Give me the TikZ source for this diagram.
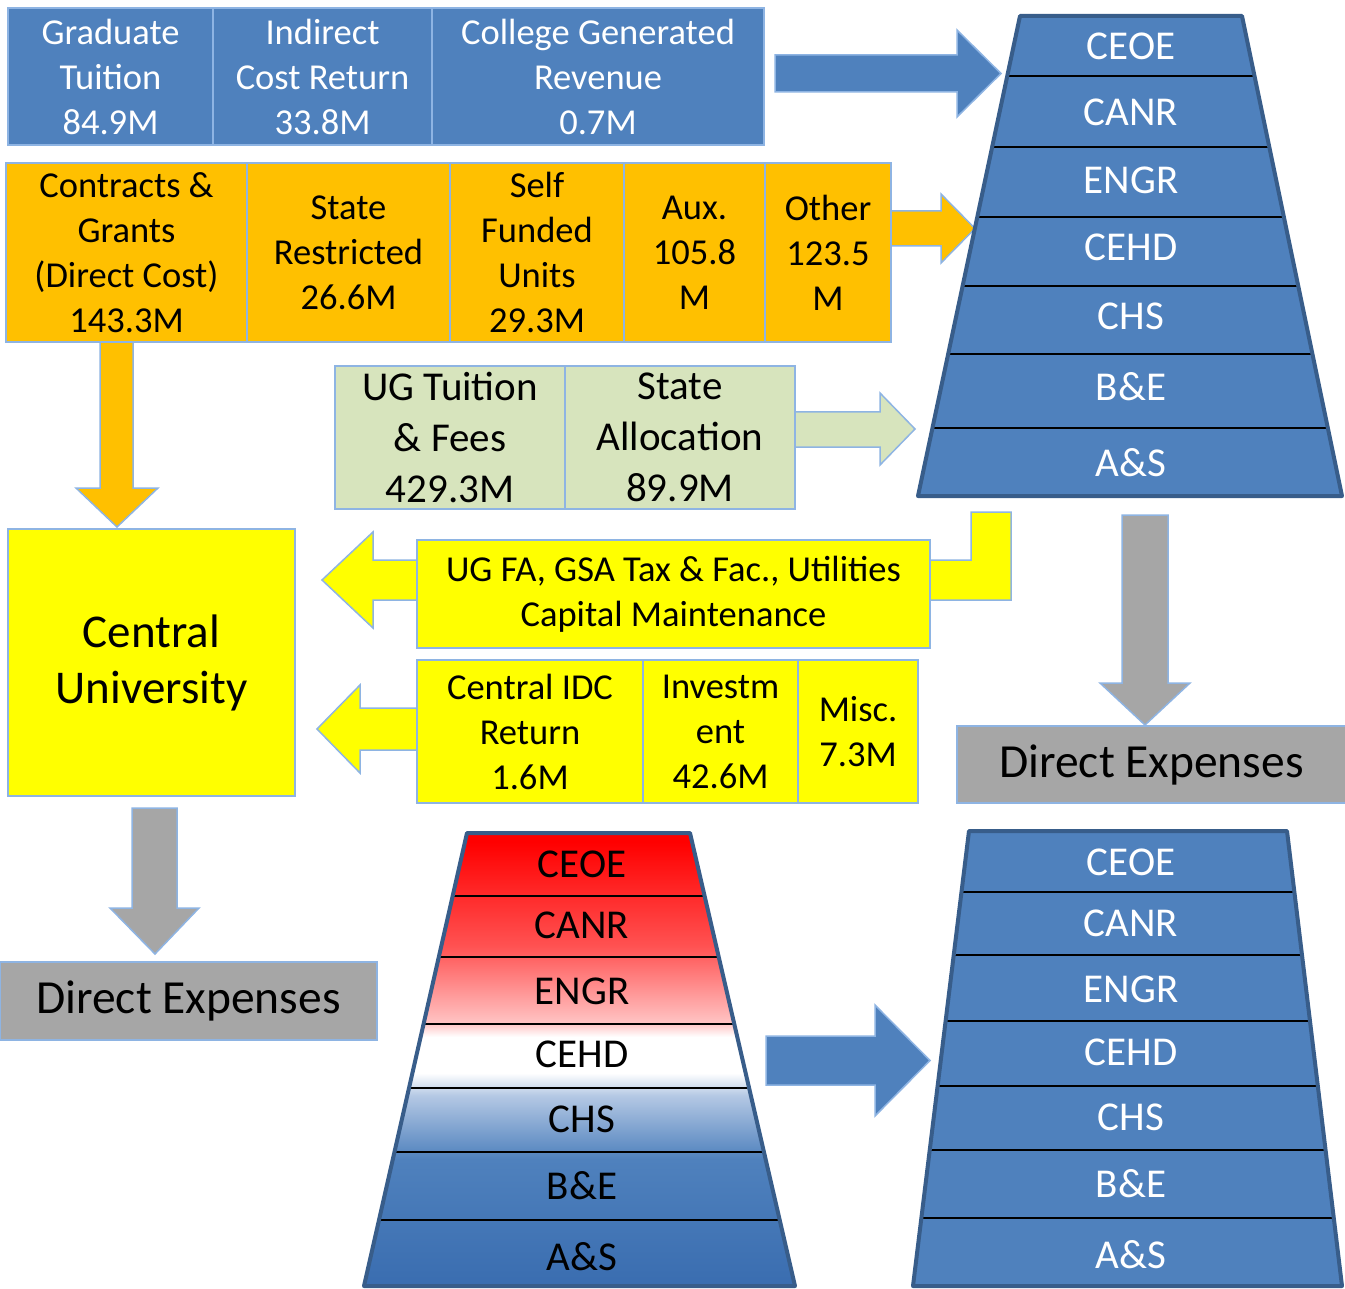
\documentclass[tikz,border=0pt]{standalone}
\usepackage{fontspec}
\setmainfont{Carlito}
\usetikzlibrary{positioning,calc}

\definecolor{offblue}{HTML}{4F81BD}
\definecolor{tierborder}{HTML}{385D8A}
\definecolor{lineblue}{HTML}{8EB4E3}
\definecolor{offorange}{HTML}{FFC000}
\definecolor{offgreen}{HTML}{D7E4BD}
\definecolor{offyellow}{HTML}{FFFF00}
\definecolor{offgray}{HTML}{A6A6A6}
\definecolor{shadeblue}{HTML}{3A6DB0}
\definecolor{paleblue}{HTML}{B4C8E4}
\definecolor{palered}{HTML}{FFC4C4}
\definecolor{midred}{HTML}{FF5252}

\pgfdeclareverticalshading{redwhiteblue}{100bp}{color(0bp)=(shadeblue); color(25bp)=(shadeblue); color(39bp)=(offblue); color(46bp)=(paleblue); color(48.5bp)=(white); color(52.5bp)=(white); color(54bp)=(palered); color(62.5bp)=(midred); color(74bp)=(red); color(100bp)=(red)}

\tikzset{
  box/.style={draw=lineblue, line width=1.5pt, outer sep=0pt, inner sep=0pt, align=center, font=\fontsize{36.5}{45}\selectfont},
  bluebox/.style={box, fill=offblue, text=white, minimum height=137pt},
  orangebox/.style={box, fill=offorange, minimum height=179pt},
  greenbox/.style={box, fill=offgreen, minimum height=143pt, font=\fontsize{41}{51}\selectfont},
  yellowbox/.style={box, fill=offyellow},
  graybox/.style={box, fill=offgray, font=\fontsize{47.5}{57}\selectfont},
  blockarrow/.style={draw=lineblue, line width=1.5pt},
  tier/.style={draw=tierborder, line width=4pt, line join=round},
  rowline/.style={black, line width=2pt},
  tierlabel/.style={inner sep=0pt, font=\fontsize{41}{49}\selectfont},
}

\begin{document}
\begin{tikzpicture}[x=1pt,y=-1pt]
\useasboundingbox (0,0) rectangle (1345,1289);
\fill[white] (0,0) rectangle (1345,1289);

% block arrows (drawn first, boxes sit on top)
\draw[blockarrow, fill=offblue] (775,55) -- (957,55) -- (957,30) -- (1001,73.5) -- (957,117) -- (957,92) -- (775,92) -- cycle;
\draw[blockarrow, fill=offorange] (891,211) -- (941,211) -- (941,194) -- (975,228.5) -- (941,263) -- (941,246) -- (891,246) -- cycle;
\draw[blockarrow, fill=offgreen] (795,412) -- (880,412) -- (880,393) -- (915,429) -- (880,465) -- (880,447) -- (795,447) -- cycle;
\draw[blockarrow, fill=offyellow] (1011,512) -- (1011,600) -- (373,600) -- (373,628) -- (322,580) -- (373,532) -- (373,560) -- (971,560) -- (971,512) -- cycle;
\draw[blockarrow, fill=offyellow] (417,708) -- (360,708) -- (360,685) -- (317,729) -- (360,773) -- (360,750) -- (417,750) -- cycle;
\draw[blockarrow, fill=offorange] (100,342) -- (133,342) -- (133,488) -- (158,488) -- (117,527) -- (76,488) -- (100,488) -- cycle;
\draw[blockarrow, fill=offgray] (132,808) -- (177,808) -- (177,908) -- (199,908) -- (155,954) -- (110,908) -- (132,908) -- cycle;
\draw[blockarrow, fill=offgray] (1122,515) -- (1168,515) -- (1168,683) -- (1190,683) -- (1145,725) -- (1100,683) -- (1122,683) -- cycle;
\draw[blockarrow, fill=offblue] (766,1036) -- (875,1036) -- (875,1005) -- (930,1060.5) -- (875,1116) -- (875,1085) -- (766,1085) -- cycle;

% revenue kept by the colleges
\node[bluebox, minimum width=205pt] (gradtu) at (110.5,76.5) {Graduate\\Tuition\\84.9M};
\node[bluebox, minimum width=219pt, right=0pt of gradtu] (idc) {Indirect\\Cost Return\\33.8M};
\node[bluebox, minimum width=332pt, right=0pt of idc] (cgr) {College Generated\\Revenue\\0.7M};

% restricted and other funds
\node[orangebox, minimum width=241pt] (cgrants) at (126.5,252.5) {Contracts \&\\Grants\\(Direct Cost)\\143.3M};
\node[orangebox, minimum width=203pt, right=0pt of cgrants] (strest) {State\\Restricted\\26.6M};
\node[orangebox, minimum width=174pt, right=0pt of strest] (selff) {Self\\Funded\\Units\\29.3M};
\node[orangebox, minimum width=141pt, right=0pt of selff] (aux) {Aux.\\105.8\\M};
\node[orangebox, minimum width=126pt, right=0pt of aux] (other) {Other\\123.5\\M};

% allocated funds
\node[greenbox, minimum width=230pt] (ugtu) at (450,437.5) {UG Tuition\\\& Fees\\429.3M};
\node[greenbox, minimum width=230pt, right=0pt of ugtu] (stalloc) {State\\Allocation\\89.9M};

% flows back to central
\node[yellowbox, minimum width=513pt, minimum height=108pt] (ugfa) at (673.5,594) {UG FA, GSA Tax \& Fac., Utilities\\Capital Maintenance};
\node[yellowbox, minimum width=226pt, minimum height=143pt] (cidc) at (530,731.5) {Central IDC\\Return\\1.6M};
\node[yellowbox, minimum width=155pt, minimum height=143pt, right=0pt of cidc] (invest) {Investm\\ent\\42.6M};
\node[yellowbox, minimum width=120pt, minimum height=143pt, right=0pt of invest] (misc) {Misc.\\7.3M};

\node[yellowbox, minimum width=287pt, minimum height=267pt, font=\fontsize{47}{56}\selectfont] (central) at (151.5,662.5) {Central\\University};

\node[graybox, minimum width=377pt, minimum height=78pt] (dirleft) at (188.5,1001) {Direct Expenses};
\node[graybox, minimum width=389pt, minimum height=77pt] (dirright) at (1151.5,764.5) {Direct Expenses};

% college pyramid, top right
\coordinate (a1) at (1020,16);
\coordinate (a2) at (1242,16);
\coordinate (a3) at (1342,496);
\coordinate (a4) at (918,496);
\fill[offblue] (a1) -- (a2) -- (a3) -- (a4) -- cycle;
\foreach \y in {76,147,217,286,354,428} {
  \pgfmathsetmacro{\ff}{(\y-16)/480}
  \draw[rowline] ($(a1)!\ff!(a4)$) -- ($(a2)!\ff!(a3)$);
}
\draw[tier] (a1) -- (a2) -- (a3) -- (a4) -- cycle;
\foreach \lab/\y [count=\i] in {CEOE/46.5,CANR/112,ENGR/180,CEHD/247,CHS/316,B\&E/387,A\&S/463}
  \node[tierlabel, text=white] (topc\i) at (1131,\y) {\lab};

% shaded pyramid, bottom middle
\coordinate (b1) at (467,833);
\coordinate (b2) at (690,833);
\coordinate (b3) at (795,1286);
\coordinate (b4) at (364,1286);
\shade[shading=redwhiteblue] (b1) -- (b2) -- (b3) -- (b4) -- cycle;
\foreach \y in {896,957,1024,1088,1152,1220} {
  \pgfmathsetmacro{\ff}{(\y-833)/453}
  \draw[rowline] ($(b1)!\ff!(b4)$) -- ($(b2)!\ff!(b3)$);
}
\draw[tier] (b1) -- (b2) -- (b3) -- (b4) -- cycle;
\foreach \lab/\y [count=\i] in {CEOE/864,CANR/925,ENGR/991,CEHD/1054,CHS/1119,B\&E/1186,A\&S/1257}
  \node[tierlabel] (midc\i) at (582,\y) {\lab};

% college pyramid, bottom right
\coordinate (c1) at (969,831);
\coordinate (c2) at (1287,831);
\coordinate (c3) at (1342,1286);
\coordinate (c4) at (913,1286);
\fill[offblue] (c1) -- (c2) -- (c3) -- (c4) -- cycle;
\foreach \y in {892,955,1021,1086,1150,1218} {
  \pgfmathsetmacro{\ff}{(\y-831)/455}
  \draw[rowline] ($(c1)!\ff!(c4)$) -- ($(c2)!\ff!(c3)$);
}
\draw[tier] (c1) -- (c2) -- (c3) -- (c4) -- cycle;
\foreach \lab/\y [count=\i] in {CEOE/862,CANR/923,ENGR/989,CEHD/1052,CHS/1117,B\&E/1184,A\&S/1255}
  \node[tierlabel, text=white] (botc\i) at (1131,\y) {\lab};
\end{tikzpicture}
\end{document}
